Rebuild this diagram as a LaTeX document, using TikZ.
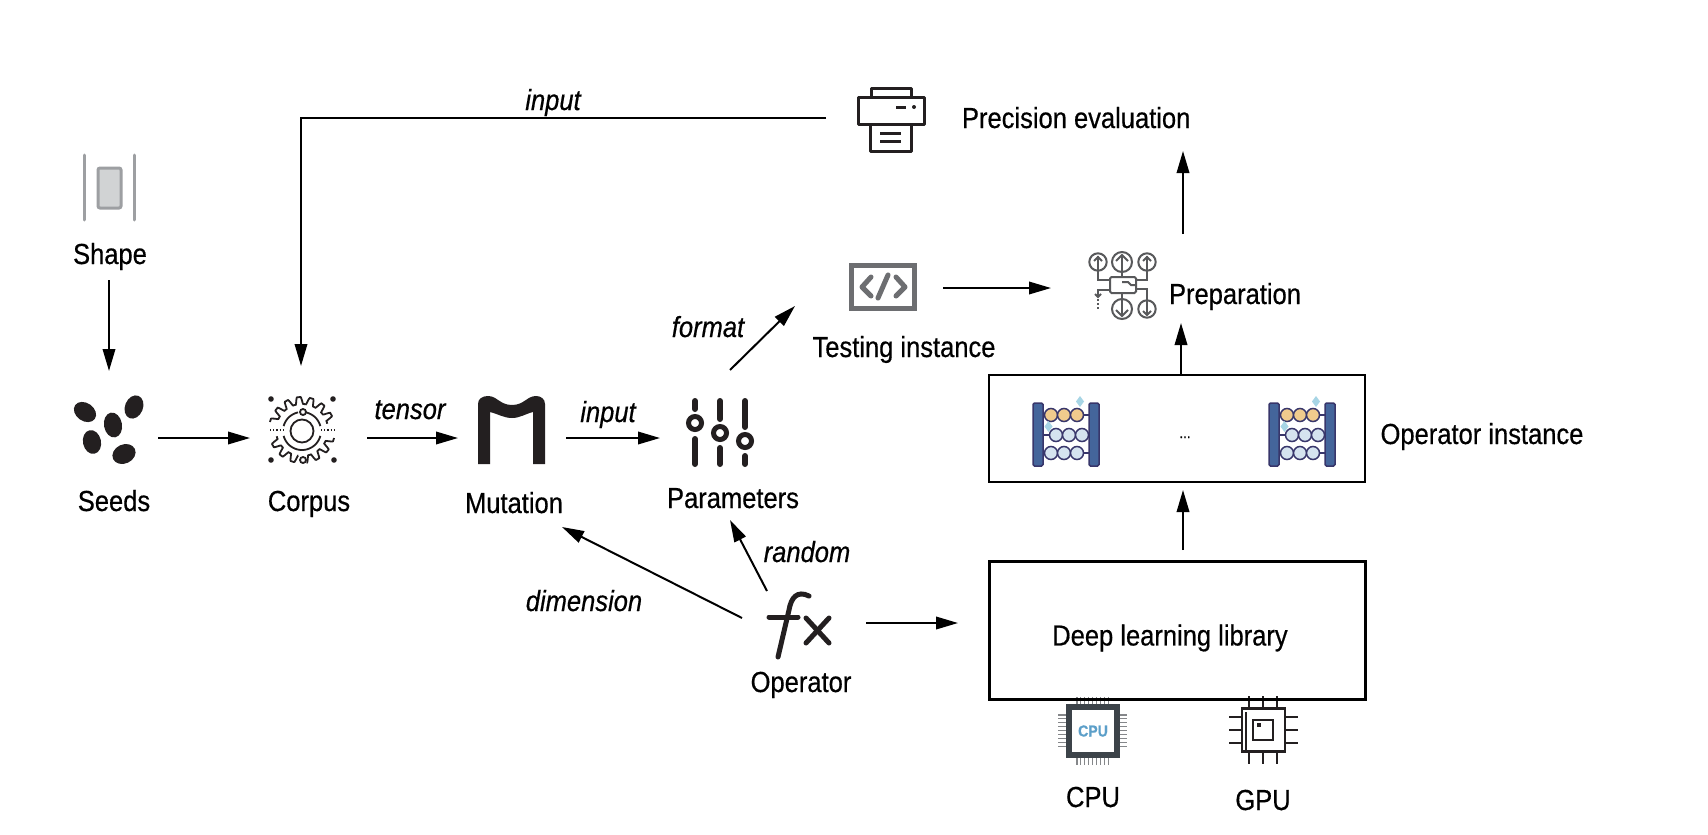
\documentclass[tikz,border=0pt]{standalone}
\usepackage{fontspec}
\setmainfont[FakeStretch=0.88,FakeBold=0.5]{Liberation Sans}
\usetikzlibrary{arrows.meta,calc}
\newcommand\lbfont{\fontsize{29}{33}\selectfont}
\definecolor{ink}{HTML}{231F20}
\definecolor{gmid}{HTML}{9D9FA2}
\definecolor{glight}{HTML}{D1D3D4}
\definecolor{gcode}{HTML}{6D6E71}
\definecolor{gprep}{HTML}{58595B}
\definecolor{abar}{HTML}{44659B}
\definecolor{aline}{HTML}{38366B}
\definecolor{abead}{HTML}{F0CB8D}
\definecolor{ablue}{HTML}{D5E3EF}
\definecolor{aspark}{HTML}{A7D5E5}
\definecolor{cpud}{HTML}{3C4349}
\definecolor{cpub}{HTML}{5C9FC9}
\tikzset{
  lbl/.style={anchor=base,inner sep=0pt,outer sep=0pt,font=\lbfont},
  ilbl/.style={anchor=base,inner sep=0pt,outer sep=0pt,font=\lbfont\itshape},
  hub/.style 2 args={inner sep=0pt,outer sep=0pt,minimum width=#1pt,minimum height=#2pt},
  arr/.style={draw=black,line width=2pt,-{Triangle[length=22pt,width=12.5pt]}},
  box/.style 2 args={draw=black,inner sep=0pt,outer sep=0pt,minimum width=#1pt,minimum height=#2pt},
  pw/.style={draw=gprep,line width=2pt},
}
\newcommand\abacus[1]{%
  \begin{scope}[xshift=#1pt]
    \foreach \yy in {415,435,453} \draw[aline,line width=1.5pt] (1043,\yy)--(1089,\yy);
    \foreach \xx in {1033,1089} \draw[aline,fill=abar,line width=1.5pt,rounded corners=1.5pt] (\xx,403) rectangle (\xx+10,466);
    \foreach \xx in {1051,1064,1077} {
      \draw[aline,fill=abead,line width=1.5pt] (\xx,415) circle[radius=6.5pt];
      \draw[aline,fill=ablue,line width=1.5pt] (\xx+5,435) circle[radius=6.5pt];
      \draw[aline,fill=ablue,line width=1.5pt] (\xx,453) circle[radius=6.5pt];
    }
    \fill[aspark] (1080,396)--(1084,401.5)--(1080,407)--(1076,401.5)--cycle;
    \fill[aspark] (1048.5,421)--(1052.5,426.5)--(1048.5,432)--(1044.5,426.5)--cycle;
  \end{scope}}
\begin{document}
\begin{tikzpicture}[x=1pt,y=-1pt]
\path[fill=white,use as bounding box] (0,0) rectangle (1708,835);

% invisible anchors of the icons
\node[hub={60}{130}] (shapeicon) at (109,215) {};
\node[hub={98}{134}] (seeds) at (109,438) {};
\node[hub={102}{144}] (corpus) at (301,438) {};
\node[hub={108}{178}] (mutation) at (512,438) {};
\node[hub={120}{164}] (params) at (720,438) {};
\node[hub={124}{54}] (fx) at (804,618) {};
\node[hub={128}{40}] (printer) at (890,118) {};
\node[hub={120}{60}] (testing) at (883,288) {};
\node[hub={262}{89}] (prep) at (1182,278.5) {};
\node[hub={20}{42}] (precision) at (1183,130) {};

% Shape icon
\draw[gmid,line width=3pt,line cap=round] (84,155)--(84,220) (134,155)--(134,220);
\draw[gmid,fill=glight,line width=3pt,rounded corners=2pt] (98,168) rectangle (121,208);
\node[lbl] (shapet) at (110,264) {Shape};

% Seeds
\fill[ink] (85,412) circle[x radius=12pt,y radius=9pt,rotate=-35];
\fill[ink] (134,407) circle[x radius=12pt,y radius=9pt,rotate=68];
\fill[ink] (113,425) circle[x radius=12.5pt,y radius=9pt,rotate=-80];
\fill[ink] (92,442) circle[x radius=12pt,y radius=9pt,rotate=-78];
\fill[ink] (124,454) circle[x radius=12pt,y radius=9.5pt,rotate=25];
\node[lbl] (seedst) at (114,511) {Seeds};

% Corpus gear
\begin{scope}[ink,line width=1.8pt]
  \draw plot[domain=14:166,samples=150] ({302+(29.5+3.5*max(-1,min(1,1.8*sin(16*\x))))*cos(\x)},{430+(29.5+3.5*max(-1,min(1,1.8*sin(16*\x))))*sin(-\x)});
  \draw plot[domain=194:262,samples=80] ({302+(29.5+3.5*max(-1,min(1,1.8*sin(16*\x))))*cos(\x)},{430+(29.5+3.5*max(-1,min(1,1.8*sin(16*\x))))*sin(-\x)});
  \draw plot[domain=278:346,samples=80] ({302+(29.5+3.5*max(-1,min(1,1.8*sin(16*\x))))*cos(\x)},{430+(29.5+3.5*max(-1,min(1,1.8*sin(16*\x))))*sin(-\x)});
  \draw (302,431) circle[radius=11.5pt];
  \draw plot[domain=15:78,samples=30] ({302+19*cos(\x)},{431-19*sin(\x)});
  \draw plot[domain=102:165,samples=30] ({302+19*cos(\x)},{431-19*sin(\x)});
  \draw plot[domain=195:345,samples=50] ({302+19*cos(\x)},{431-19*sin(\x)});
  \draw[fill=white] (303,412) circle[radius=3pt];
  \draw[fill=white] (303,460) circle[radius=3pt];
  \draw[dotted,line width=1.2pt] (270,430)--(283,430) (321,430)--(335,430);
  \foreach \px/\py in {271/399,333/399,271/460,334/460} \fill (\px,\py) circle[radius=2.8pt];
\end{scope}
\node[lbl] (corpust) at (309,511) {Corpus};

% Mutation icon
\fill[ink] (478,464)--(478,404) .. controls (478,399) and (482,396) .. (488,396)
  .. controls (497,396) and (500,405) .. (512,405)
  .. controls (524,405) and (527,396) .. (536,396)
  .. controls (541,396) and (545,399) .. (545,404)
  --(545,464)--(533,464)--(533,412)
  .. controls (525,414) and (520,418) .. (512,418)
  .. controls (504,418) and (498,414) .. (490,412)
  --(490,464)--cycle;
\node[lbl] (mutationt) at (514,513) {Mutation};

% Parameters sliders
\begin{scope}[ink,line width=6pt,line cap=round]
  \draw (695,401)--(695,409) (695,439)--(695,464);
  \draw (720,401)--(720,419) (720,448)--(720,464);
  \draw (745,401)--(745,427) (745,456)--(745,464);
  \draw[line width=5pt] (695,423) circle[radius=6.5pt];
  \draw[line width=5pt] (720,433) circle[radius=6.5pt];
  \draw[line width=5pt] (745,441) circle[radius=6.5pt];
\end{scope}
\node[lbl] (paramst) at (733,508) {Parameters};

% fx icon
\begin{scope}[ink,line width=5pt,line cap=round]
  \draw (809,596) .. controls (797,590) and (791,598) .. (789,610) -- (778,657);
  \draw (769,617)--(798,617);
  \draw (806,618)--(829,643) (829,618)--(806,643);
\end{scope}
\node[lbl] (operatort) at (801,692) {Operator};

% Printer
\begin{scope}[ink,line width=3pt,line join=round]
  \draw (871,97)--(871,88)--(911,88)--(911,97);
  \draw (858,97) rectangle (924,124);
  \draw (870,124)--(870,151)--(911,151)--(911,124);
  \draw (880,133)--(901,133) (880,141)--(901,141);
  \draw (896,107)--(906,107);
  \fill (914,107) circle[radius=2pt];
\end{scope}
\node[lbl,anchor=base west] (precisiont) at (962,128) {Precision evaluation};

% Testing instance icon
\draw[gcode,line width=5pt] (851.5,265.5) rectangle (914.5,308.5);
\begin{scope}[gcode,line width=5pt,line cap=round,line join=round]
  \draw (871,277)--(862,287)--(871,296);
  \draw (896,277)--(905,287)--(896,296);
  \draw (888,275)--(878,298);
\end{scope}
\node[lbl] (testingt) at (904,357) {Testing instance};

% Preparation icon
\foreach \cx/\cy/\rr in {1098/262/8.7,1122/262/10,1147/262/8.7,1122/309/10,1147/309/8.7}
  \draw[pw] (\cx,\cy) circle[radius=\rr pt];
\draw[pw] (1098,256)--(1098,280)--(1110,280);
\draw[pw] (1122,255)--(1122,277);
\draw[pw] (1147,256)--(1147,280)--(1136,280);
\draw[pw] (1147,315)--(1147,289)--(1136,289);
\draw[pw] (1122,316)--(1122,293);
\draw[pw] (1094,261)--(1098,257)--(1102,261);
\draw[pw] (1116,261)--(1122,255)--(1128,261);
\draw[pw] (1143,261)--(1147,257)--(1151,261);
\draw[pw] (1116,310)--(1122,316)--(1128,310);
\draw[pw] (1143,311)--(1147,315)--(1151,311);
\draw[pw,rounded corners=1.5pt] (1110,277) rectangle (1136,293);
\draw[pw] (1110,290)--(1098,290)--(1098,296);
\draw[pw] (1095,294)--(1098,297)--(1101,294);
\draw[pw,dotted] (1098,299)--(1098,310);
\draw[pw] (1122,282)--(1128,282)--(1131,285)--(1136,285);
\node[lbl] (prept) at (1235,304) {Preparation};

% Operator instance
\node[box={376}{107},line width=2pt] (opbox) at (1177,428.5) {};
\abacus{0}
\abacus{236}
\node[anchor=base,inner sep=0pt,font=\fontsize{15}{17}\selectfont] (dots) at (1185,438) {...};
\node[lbl] (opt) at (1482,444) {Operator instance};

% CPU, GPU icons
\foreach \k in {0,...,8} {
  \draw[gmid!85!black,line width=1.1pt] (1077+\k*3.9,697)--(1077+\k*3.9,704);
  \draw[gmid!85!black,line width=1.1pt] (1077+\k*3.9,758)--(1077+\k*3.9,765);
}
\foreach \k in {0,...,8} {
  \draw[gmid!85!black,line width=1.1pt] (1058,715+\k*3.9)--(1067,715+\k*3.9);
  \draw[gmid!85!black,line width=1.1pt] (1120,715+\k*3.9)--(1127,715+\k*3.9);
}
\draw[cpud,fill=white,line width=6pt] (1069,707) rectangle (1117,755);
\node[inner sep=0pt,text=cpub,font=\fontsize{16}{18}\selectfont\bfseries] (cpuchip) at (1093,731) {CPU};
\begin{scope}[ink,line width=2.4pt]
  \foreach \xx in {1249,1263,1277} \draw (\xx,696)--(\xx,708) (\xx,752)--(\xx,764);
  \foreach \yy in {717,730,743} \draw (1229,\yy)--(1242,\yy) (1285,\yy)--(1298,\yy);
  \draw (1242,708.5) rectangle (1285,751.5);
  \draw[line width=1.4pt] (1253,720) rectangle (1273,740);
  \draw[line width=1.4pt] (1246,712)--(1246,750);
  \fill (1257,723) rectangle (1261,727);
\end{scope}
\node[lbl] (cput) at (1093,807) {CPU};
\node[lbl] (gput) at (1263,810) {GPU};

% Deep learning library
\node[box={376}{138},line width=3pt,font=\lbfont,text height=37pt] (library) at (1177,630) {\kern-14pt Deep learning library};

% connectors
\draw[arr] (shapeicon.south) -- (seeds.north);
\draw[arr] (seeds.east) -- (corpus.west);
\draw[arr,shorten <=15pt] (corpus.east) -- (mutation.west);
\draw[arr] (mutation.east) -- (params.west);
\draw[arr] (printer.west) -| (corpus.north);
\draw[arr,shorten >=31pt] ([yshift=-5pt]fx.east) -- ([yshift=7pt]library.west);
\draw[arr] (fx.west) -- ([xshift=-4pt]mutation.south east);
\draw[arr] ([xshift=-37pt]fx.north) -- ([xshift=10pt]params.south);
\draw[arr] ([xshift=10pt,yshift=-14pt]params.north) -- ([xshift=-28pt,yshift=-18pt]testing.west);
\draw[arr] (testing.east) -- ([yshift=-9.5pt]prep.west);
\draw[arr] ([xshift=1pt]prep.north) -- (precision.south);
\draw[arr] ([xshift=4pt]opbox.north) -- ([xshift=-1pt]prep.south);
\draw[arr,shorten <=11pt,shorten >=8pt] ([xshift=6pt]library.north) -- ([xshift=6pt]opbox.south);

% connector labels
\node[ilbl] (linput) at (553,110) {input};
\node[ilbl] (ltensor) at (410,419) {tensor};
\node[ilbl] (linput2) at (608,422) {input};
\node[ilbl] (lformat) at (708,337) {format};
\node[ilbl] (lrandom) at (807,562) {random};
\node[ilbl] (ldim) at (584,611) {dimension};
\end{tikzpicture}
\end{document}
